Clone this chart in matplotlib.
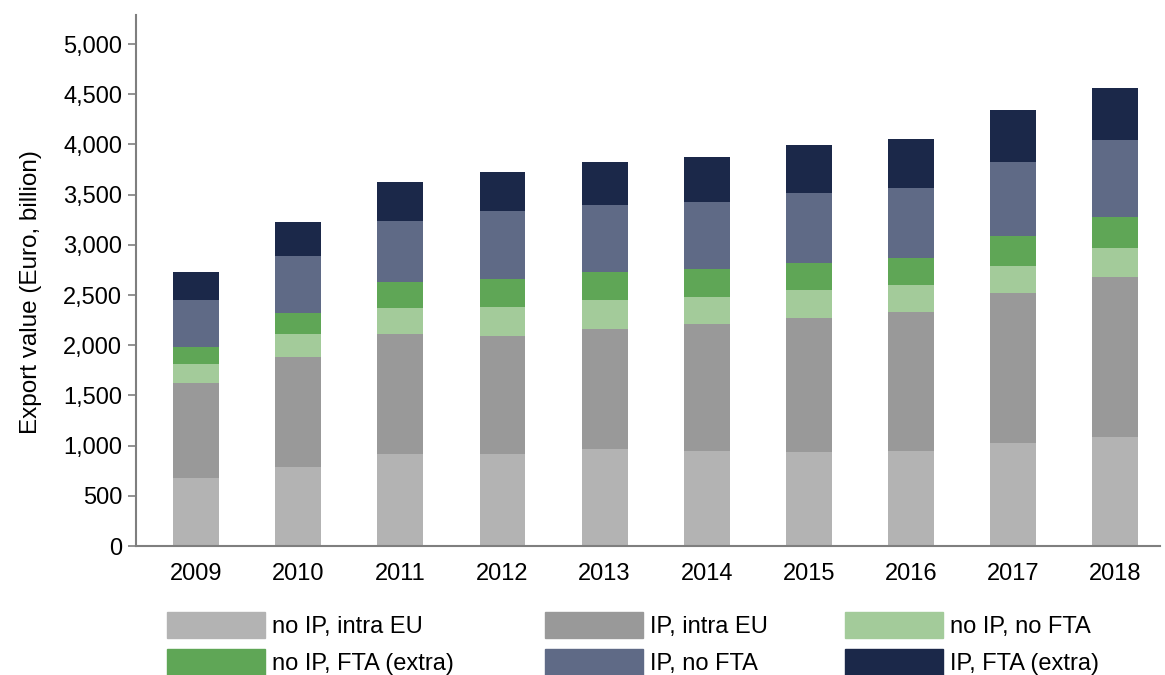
import numpy as np
import matplotlib
matplotlib.use("Agg")
import matplotlib.pyplot as plt
import matplotlib.patches as mpatches
from matplotlib.ticker import FuncFormatter

plt.rcParams['font.family'] = ['Liberation Sans', 'DejaVu Sans']

years = ['2009', '2010', '2011', '2012', '2013', '2014', '2015', '2016', '2017', '2018']

# export value, Euro billion, per category (bottom to top of stack)
noip_intra = [674, 784, 916, 913, 963, 946, 936, 946, 1029, 1089]
ip_intra = [953, 1101, 1192, 1179, 1195, 1262, 1332, 1388, 1494, 1587]
noip_nofta = [186, 223, 265, 285, 292, 275, 282, 266, 269, 289]
noip_fta = [172, 210, 256, 279, 276, 276, 266, 266, 299, 315]
ip_nofta = [465, 570, 608, 681, 667, 667, 697, 697, 731, 761]
ip_fta = [282, 339, 388, 388, 429, 445, 484, 488, 521, 524]

labels = ['no IP, intra EU', 'IP, intra EU', 'no IP, no FTA',
          'no IP, FTA (extra)', 'IP, no FTA', 'IP, FTA (extra)']
colors = ['#b3b3b3', '#999999', '#a3cb9a', '#5fa656', '#5f6a86', '#1b2849']

series = [noip_intra, ip_intra, noip_nofta, noip_fta, ip_nofta, ip_fta]

fig = plt.figure(figsize=(11.65, 6.75), dpi=100)
ax = fig.add_axes([0.1167, 0.1911, 0.879, 0.7867])

x = np.arange(len(years))
bottom = np.zeros(len(years))
handles = []
for vals, lab, col in zip(series, labels, colors):
    ax.bar(x, vals, width=0.45, bottom=bottom, color=col, label=lab)
    handles.append(mpatches.Patch(color=col, label=lab))
    bottom += np.array(vals)

ax.set_xlim(-0.59, 9.44)
ax.set_ylim(0, 5290)
ax.set_yticks(np.arange(0, 5001, 500))
ax.yaxis.set_major_formatter(FuncFormatter(lambda v, p: '{:,.0f}'.format(v)))
ax.set_xticks(x)
ax.set_xticklabels(years)

for s in ['top', 'right']:
    ax.spines[s].set_visible(False)
for s in ['left', 'bottom']:
    ax.spines[s].set_color('#7f7f7f')
    ax.spines[s].set_linewidth(1.5)

ax.tick_params(axis='y', length=6, width=1.2, color='#7f7f7f', labelsize=17, pad=4)
ax.tick_params(axis='x', length=0, labelsize=17, pad=12)
ax.set_ylabel('Export value (Euro, billion)', fontsize=17.5, labelpad=13)
ax.yaxis.set_label_coords(-0.092, 0.478)

# legend: three columns, two rows, filled row by row
col_x = [0.1433, 0.4678, 0.7253]
for i in range(3):
    fig.legend(handles=[handles[i], handles[i + 3]], loc='upper left',
               bbox_to_anchor=(col_x[i], 0.094), frameon=False,
               fontsize=17, handlelength=4.15, handleheight=1.35,
               handletextpad=0.3, labelspacing=0.45, borderpad=0,
               borderaxespad=0)

fig.savefig('out.png', dpi=100)
